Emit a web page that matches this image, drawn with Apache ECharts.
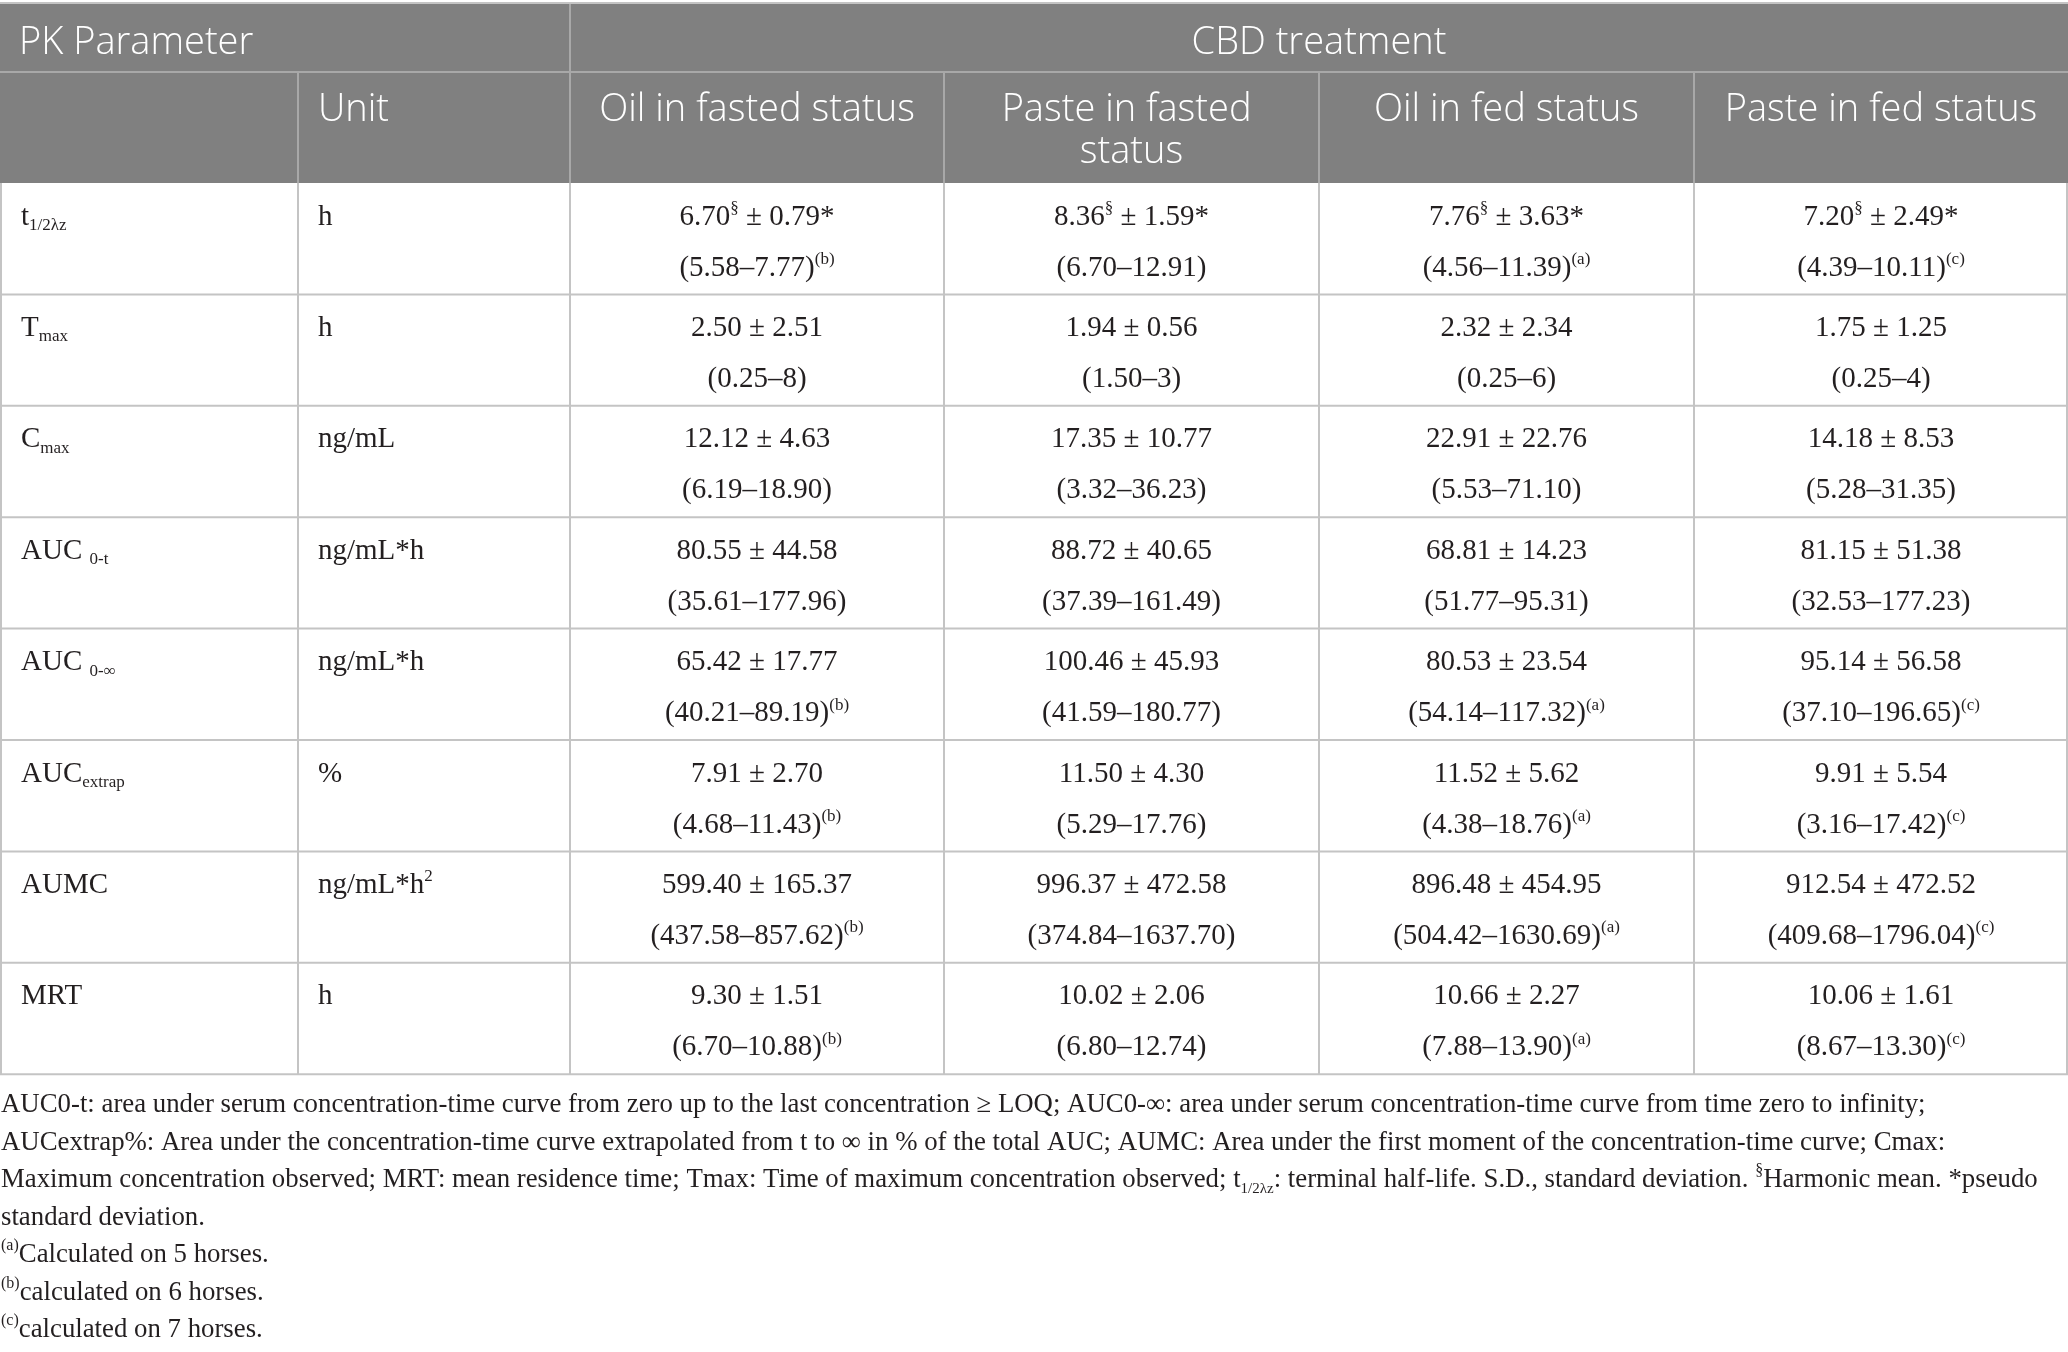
<!DOCTYPE html>
<html><head><meta charset="utf-8">
<script src="https://cdn.jsdelivr.net/npm/echarts@6/dist/echarts.min.js"></script>
<style>html,body{margin:0;padding:0;background:#fff}#c{width:2068px;height:1352px}</style>
</head><body><div id="c"></div>
<script>
// ---------------- DATA ----------------
const headerTitle = 'PK Parameter';
const groupTitle = 'CBD treatment';
const unitTitle = 'Unit';
const treatments = ['Oil in fasted status', 'Paste in fasted status', 'Oil in fed status', 'Paste in fed status'];
const paramBase = ['t', 'T', 'C', 'AUC ', 'AUC ', 'AUC', 'AUMC', 'MRT'];
const paramSub = ['1/2λz', 'max', 'max', '0-t', '0-∞', 'extrap', '', ''];
const unitBase = ['h', 'h', 'ng/mL', 'ng/mL*h', 'ng/mL*h', '%', 'ng/mL*h', 'h'];
const unitSup = ['', '', '', '', '', '', '2', ''];
const harmonicRow = [true, false, false, false, false, false, false, false];
const means = [
  ['6.70', '8.36', '7.76', '7.20'],
  ['2.50', '1.94', '2.32', '1.75'],
  ['12.12', '17.35', '22.91', '14.18'],
  ['80.55', '88.72', '68.81', '81.15'],
  ['65.42', '100.46', '80.53', '95.14'],
  ['7.91', '11.50', '11.52', '9.91'],
  ['599.40', '996.37', '896.48', '912.54'],
  ['9.30', '10.02', '10.66', '10.06']
];
const sds = [
  ['0.79', '1.59', '3.63', '2.49'],
  ['2.51', '0.56', '2.34', '1.25'],
  ['4.63', '10.77', '22.76', '8.53'],
  ['44.58', '40.65', '14.23', '51.38'],
  ['17.77', '45.93', '23.54', '56.58'],
  ['2.70', '4.30', '5.62', '5.54'],
  ['165.37', '472.58', '454.95', '472.52'],
  ['1.51', '2.06', '2.27', '1.61']
];
const lows = [
  ['5.58', '6.70', '4.56', '4.39'],
  ['0.25', '1.50', '0.25', '0.25'],
  ['6.19', '3.32', '5.53', '5.28'],
  ['35.61', '37.39', '51.77', '32.53'],
  ['40.21', '41.59', '54.14', '37.10'],
  ['4.68', '5.29', '4.38', '3.16'],
  ['437.58', '374.84', '504.42', '409.68'],
  ['6.70', '6.80', '7.88', '8.67']
];
const highs = [
  ['7.77', '12.91', '11.39', '10.11'],
  ['8', '3', '6', '4'],
  ['18.90', '36.23', '71.10', '31.35'],
  ['177.96', '161.49', '95.31', '177.23'],
  ['89.19', '180.77', '117.32', '196.65'],
  ['11.43', '17.76', '18.76', '17.42'],
  ['857.62', '1637.70', '1630.69', '1796.04'],
  ['10.88', '12.74', '13.90', '13.30']
];
const notes = [
  ['b', '', 'a', 'c'],
  ['', '', '', ''],
  ['', '', '', ''],
  ['', '', '', ''],
  ['b', '', 'a', 'c'],
  ['b', '', 'a', 'c'],
  ['b', '', 'a', 'c'],
  ['b', '', 'a', 'c']
];
// footnote lines: segments [text, style]
const footnotes = [
  [['AUC0-t: area under serum concentration-time curve from zero up to the last concentration ≥ LOQ; AUC0-∞: area under serum concentration-time curve from time zero to infinity;', 'm']],
  [['AUCextrap%: Area under the concentration-time curve extrapolated from t to ∞ in % of the total AUC; AUMC: Area under the first moment of the concentration-time curve; Cmax:', 'm']],
  [['Maximum concentration observed; MRT: mean residence time; Tmax: Time of maximum concentration observed; t', 'm'], ['1/2λz', 'sub'], [': terminal half-life. S.D., standard deviation. ', 'm'], ['§', 'sup'], ['Harmonic mean. *pseudo', 'm']],
  [['standard deviation.', 'm']],
  [['(a)', 'sup'], ['Calculated on 5 horses.', 'm']],
  [['(b)', 'sup'], ['calculated on 6 horses.', 'm']],
  [['(c)', 'sup'], ['calculated on 7 horses.', 'm']]
];

// ---------------- LAYOUT / STYLE ----------------
const SANS = '"Open Sans", "Noto Sans", sans-serif';
const SERIF = '"Liberation Serif", "DejaVu Serif", serif';
const colX = [0, 298, 570, 944, 1319, 1694, 2068];
const headTop = 4, head1Bot = 72, head2Bot = 183, rowH = 111.4;
const HEAD_BG = '#808080', HEAD_LINE = '#a8a8a8', BODY_LINE = '#c4c4c4';
const TXT = '#231f20';
const BODY_FS = 29, SMALL_FS = 17;
const bodyRich = {
  m: { fontFamily: SERIF, fontSize: BODY_FS, lineHeight: 34, fill: TXT },
  sub: { fontFamily: SERIF, fontSize: SMALL_FS, lineHeight: 16, verticalAlign: 'bottom', fill: TXT },
  sup: { fontFamily: SERIF, fontSize: SMALL_FS, lineHeight: 24, verticalAlign: 'top', fill: TXT }
};
const footRich = {
  m: { fontFamily: SERIF, fontSize: 26.8, lineHeight: 34, fill: TXT },
  sub: { fontFamily: SERIF, fontSize: 15, lineHeight: 16, verticalAlign: 'bottom', fill: TXT },
  sup: { fontFamily: SERIF, fontSize: 16, lineHeight: 24, verticalAlign: 'top', fill: TXT }
};
function tok(s, k) { return s ? '{' + k + '|' + s + '}' : ''; }

const els = [];
function line(x1, y1, x2, y2, c, w) {
  els.push({ type: 'line', shape: { x1, y1, x2, y2 }, style: { stroke: c, lineWidth: w }, silent: true });
}
function rtext(x, y, str, align, rich, vAlign) {
  els.push({ type: 'text', x, y, silent: true, style: { text: str, rich, align, verticalAlign: vAlign || 'middle', fill: TXT, font: BODY_FS + 'px ' + SERIF } });
}

// header background
els.push({ type: 'rect', shape: { x: 0, y: headTop, width: colX[6], height: head2Bot - headTop }, style: { fill: HEAD_BG }, silent: true });
line(0, headTop - 1, colX[6], headTop - 1, BODY_LINE, 2);
line(0, head1Bot, colX[6], head1Bot, HEAD_LINE, 2);
line(colX[2], headTop, colX[2], head2Bot, HEAD_LINE, 2);
[1, 3, 4, 5].forEach(i => line(colX[i], head1Bot, colX[i], head2Bot, HEAD_LINE, 2));

const headStyle = { fill: '#ffffff', fontFamily: SANS, fontSize: 38, fontWeight: 300 };
els.push({ type: 'text', x: colX[0] + 19, y: 43, silent: true, style: Object.assign({ text: headerTitle, align: 'left', verticalAlign: 'middle' }, headStyle) });
els.push({ type: 'text', x: (colX[2] + colX[6]) / 2, y: 43, silent: true, style: Object.assign({ text: groupTitle, align: 'center', verticalAlign: 'middle' }, headStyle) });
els.push({ type: 'text', x: colX[1] + 20, y: 89, silent: true, style: Object.assign({ text: unitTitle, align: 'left', verticalAlign: 'top', lineHeight: 42 }, headStyle) });
treatments.forEach((t, j) => {
  const cx = (colX[j + 2] + colX[j + 3]) / 2;
  els.push({ type: 'text', x: cx, y: 89, silent: true, style: Object.assign({ text: t, align: 'center', verticalAlign: 'top', lineHeight: 42, width: colX[j + 3] - colX[j + 2] - 36, overflow: 'break' }, headStyle) });
});

// body grid
for (let r = 1; r <= paramBase.length; r++) {
  const y = head2Bot + r * rowH;
  line(0, y, colX[6], y, BODY_LINE, 2);
}
colX.forEach((x, i) => {
  const xx = i === 0 ? 1 : (i === colX.length - 1 ? colX[6] - 1 : x);
  line(xx, head2Bot, xx, head2Bot + paramBase.length * rowH, BODY_LINE, 2);
});

// body text
paramBase.forEach((p, r) => {
  const top = head2Bot + r * rowH;
  rtext(colX[0] + 21, top + 34, tok(p, 'm') + tok(paramSub[r], 'sub'), 'left', bodyRich);
  rtext(colX[1] + 20, top + 34, tok(unitBase[r], 'm') + tok(unitSup[r], 'sup'), 'left', bodyRich);
  for (let j = 0; j < 4; j++) {
    const cx = (colX[j + 2] + colX[j + 3]) / 2;
    const l1 = harmonicRow[r]
      ? tok(means[r][j], 'm') + tok('§', 'sup') + tok(' ± ' + sds[r][j] + '*', 'm')
      : tok(means[r][j] + ' ± ' + sds[r][j], 'm');
    const l2 = tok('(' + lows[r][j] + '–' + highs[r][j] + ')', 'm') + (notes[r][j] ? tok('(' + notes[r][j] + ')', 'sup') : '');
    rtext(cx, top + 34, l1, 'center', bodyRich);
    rtext(cx, top + 85, l2, 'center', bodyRich);
  }
});

// footnotes
const footTop = 1105, footStep = 37.5;
footnotes.forEach((segs, i) => {
  const s = segs.map(sg => tok(sg[0], sg[1])).join('');
  rtext(1, footTop + i * footStep, s, 'left', footRich);
});

const chart = echarts.init(document.getElementById('c'), null, { renderer: 'canvas' });
chart.setOption({ animation: false, backgroundColor: '#ffffff', graphic: { elements: els } });
</script>
</body></html>
